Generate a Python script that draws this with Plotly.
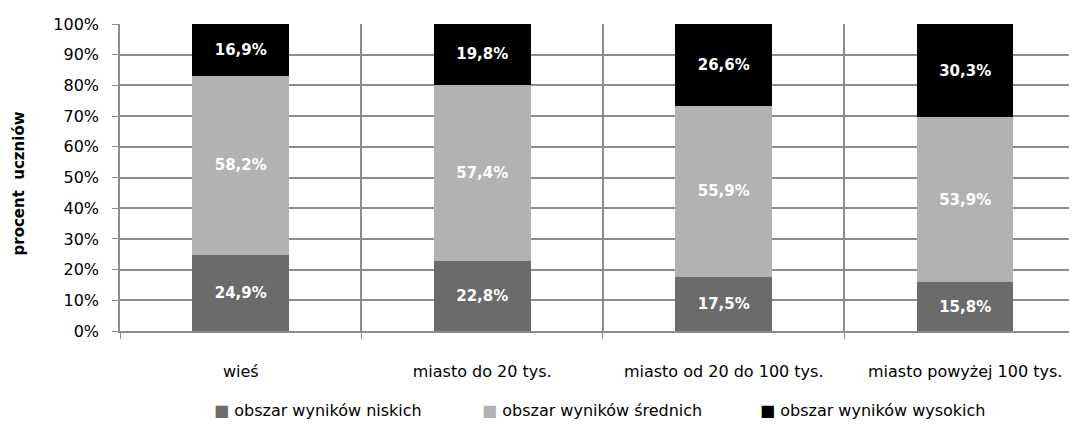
import plotly.graph_objects as go

kategorie = ["wieś", "miasto do 20 tys.", "miasto od 20 do 100 tys.", "miasto powyżej 100 tys."]
niskie = [24.9, 22.8, 17.5, 15.8]
srednie = [58.2, 57.4, 55.9, 53.9]
wysokie = [16.9, 19.8, 26.6, 30.3]

serie = [
    ("obszar wyników niskich", niskie, "#6b6b6b"),
    ("obszar wyników średnich", srednie, "#b2b2b2"),
    ("obszar wyników wysokich", wysokie, "#000000"),
]

FONT = "DejaVu Sans"
pos = list(range(len(kategorie)))

fig = go.Figure()
for name, vals, col in serie:
    fig.add_trace(go.Bar(
        x=pos, y=vals, name=name, marker_color=col, marker_line_width=0,
        width=0.4, showlegend=False,
        text=[("%.1f%%" % v).replace(".", ",") for v in vals],
        textposition="inside", insidetextanchor="middle",
        textfont=dict(family=FONT, size=15, color="white", weight="bold"),
        hoverinfo="skip",
    ))

# dummy trace to carry the category labels on a second x axis
fig.add_trace(go.Scatter(x=pos, y=[None] * len(pos), xaxis="x2", showlegend=False,
                         hoverinfo="skip"))

grid = "#8c8c8c"
# page body has an 8px margin, figure starts at (8, 8)
xr = [-0.5, 3.463]
fig.update_layout(
    width=1069, height=419,
    margin=dict(l=112, r=0, t=16, b=96),
    barmode="stack",
    plot_bgcolor="white", paper_bgcolor="white",
    font=dict(family=FONT, size=16, color="black"),
    xaxis=dict(
        range=xr, tickmode="array",
        tickvals=[-0.5, 0.5, 1.5, 2.5, 3.5], ticktext=["", "", "", "", ""],
        showgrid=True, gridcolor=grid, gridwidth=1.5,
        ticks="outside", ticklen=6, tickcolor=grid,
        showline=True, linecolor=grid, linewidth=1.5, zeroline=False,
        automargin=False,
    ),
    xaxis2=dict(
        range=xr, overlaying="x", side="bottom", tickmode="array",
        tickvals=pos, ticktext=kategorie, showgrid=False, showline=False,
        zeroline=False, ticks="", ticklabelstandoff=29, automargin=False,
        tickfont=dict(family=FONT, size=16),
    ),
    yaxis=dict(
        range=[0, 100], dtick=10, ticksuffix="%",
        showgrid=True, gridcolor=grid, gridwidth=1.5,
        ticks="outside", ticklen=6, tickcolor=grid,
        showline=True, linecolor=grid, linewidth=1.5, zeroline=False,
        tickfont=dict(family=FONT, size=16), ticklabelstandoff=10,
        automargin=False,
    ),
    showlegend=False,
)

fig.add_annotation(
    text="<b>procent  uczniów</b>", textangle=-90, xref="paper", yref="paper",
    x=0, y=0.5, xanchor="center", yanchor="middle", xshift=-102, yshift=-6,
    showarrow=False, font=dict(family=FONT, size=15),
)

# legend drawn as text with square glyphs
leg_x = [212, 480, 758]
for (name, vals, col), px in zip(serie, leg_x):
    fig.add_annotation(
        text="<span style='color:%s'>■</span> %s" % (col, name),
        xref="paper", yref="paper", x=(px - 120) / 957, y=(331 - 410) / 307,
        xanchor="left", yanchor="middle", showarrow=False,
        font=dict(family=FONT, size=16),
    )

fig.write_html("out.html")
